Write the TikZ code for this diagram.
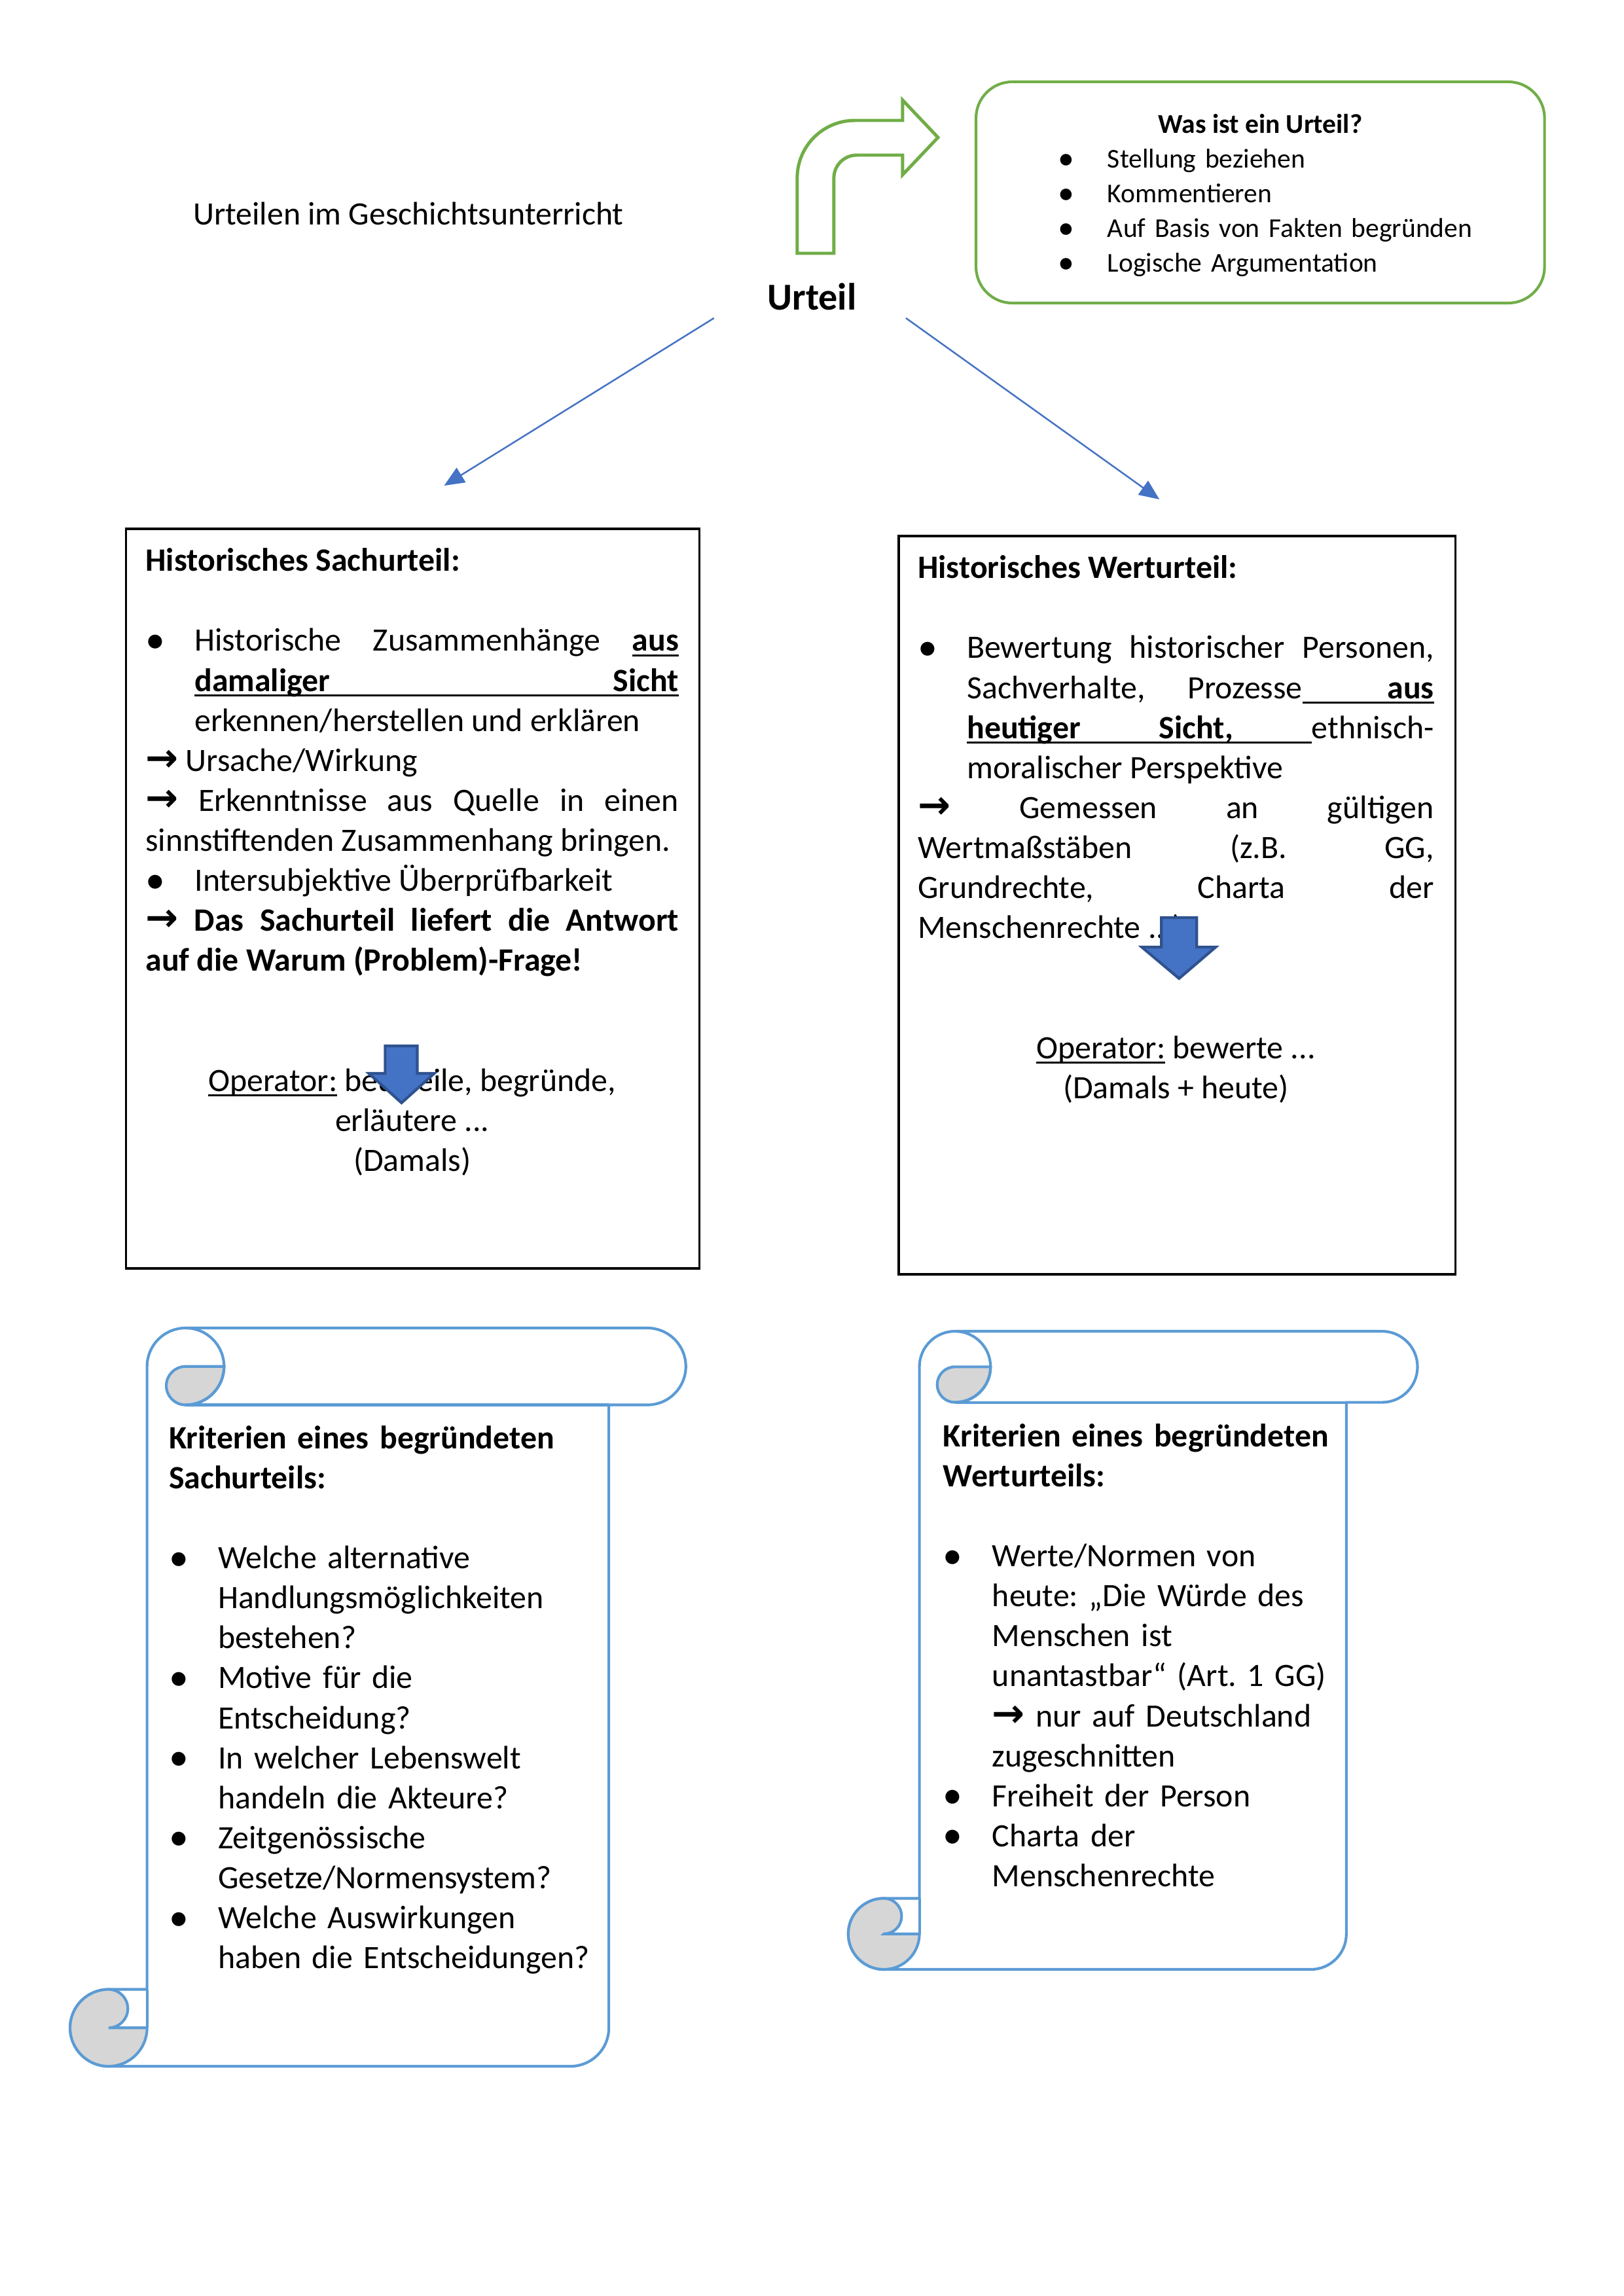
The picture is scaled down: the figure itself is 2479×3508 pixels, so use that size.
\documentclass[tikz,border=0pt]{standalone}
\usepackage{fontspec}
\usepackage{graphicx}
\setmainfont{Carlito}
\newfontfamily\arrowfont{DejaVu Sans}
\usetikzlibrary{arrows.meta,fit}
\definecolor{leaf}{HTML}{70AD47}
\definecolor{sky}{HTML}{5B9BD5}
\definecolor{royal}{HTML}{4472C4}
\definecolor{navy}{HTML}{2F528F}
\definecolor{curl}{HTML}{D6D6D6}
\frenchspacing
\tolerance=10000
\hbadness=10000

\newsavebox\ulbox
\newcommand{\ulw}[1]{\leavevmode\sbox\ulbox{#1}\rlap{\rule[-1.9pt]{\wd\ulbox}{0.7pt}}\usebox\ulbox}
\newcommand{\ulsp}{\leaders\hrule height -1.2pt depth 1.9pt\hskip\fontdimen2\font plus\fontdimen3\font minus\fontdimen4\font\relax}
\newcommand{\pfeil}{\scalebox{1.2}{\arrowfont\bfseries →}}
\newcommand{\erste}{\rule{0pt}{0.952em}}
\newcommand{\bul}{\raisebox{-0.05em}{\scalebox{1.2}{•}}}
\newcommand{\punkt}{\hangindent=6.35mm\hangafter=1\relax\makebox[6.35mm][l]{\bul}}

% vertical scroll: left, top, right, bottom, roll size
\newcommand{\scrollshape}[5]{%
  \pgfmathsetmacro{\scL}{#1+#5}\pgfmathsetmacro{\scR}{#3-#5}%
  \pgfmathsetmacro{\scH}{#5/2}\pgfmathsetmacro{\scQ}{#5/4}%
  \pgfmathsetmacro{\scLH}{#1+1.5*#5}\pgfmathsetmacro{\scLC}{#1+2*#5}%
  \pgfmathsetmacro{\scLh}{#1+#5/2}\pgfmathsetmacro{\scRh}{#3-#5/2}%
  \pgfmathsetmacro{\scTh}{#2+#5/2}\pgfmathsetmacro{\scTc}{#2+#5}%
  \pgfmathsetmacro{\scBh}{#4-#5/2}\pgfmathsetmacro{\scBc}{#4-#5}%
  \filldraw[scrollline,fill=white] (\scL,\scTh) arc[start angle=180,end angle=270,radius=\scH] -- (\scRh,#2) arc[start angle=-90,end angle=90,radius=\scH] -- (\scR,\scTc) -- (\scR,\scBh) arc[start angle=0,end angle=90,radius=\scH] -- (\scLh,#4) arc[start angle=90,end angle=270,radius=\scH] -- (\scL,\scBc) -- cycle;
  \filldraw[scrollline,fill=curl] (\scLH,\scTh) -- (\scLC,\scTh) arc[start angle=0,end angle=90,radius=\scH] arc[start angle=90,end angle=270,radius=\scQ] -- cycle;
  \filldraw[scrollline,fill=curl] (\scLh,\scBh) -- (\scL,\scBh) arc[start angle=0,end angle=270,radius=\scH] arc[start angle=270,end angle=450,radius=\scQ] -- cycle;
  \draw[scrollline] (\scR,\scTc) -- (\scLH,\scTc);
  \draw[scrollline] (\scLH,#2) arc[start angle=-90,end angle=90,radius=\scH];
  \draw[scrollline] (\scL,\scBc) -- (\scL,\scBh);
}

\begin{document}
\begin{tikzpicture}[x=0.08471mm,y=-0.08466mm,
  frame/.style={draw=black,line width=0.75pt,inner sep=0pt},
  wasframe/.style={draw=leaf,line width=1pt,rounded corners=4.7mm,inner sep=0pt},
  body/.style={inner sep=0pt,anchor=north west,font=\fontsize{12}{14.72}\selectfont},
  small/.style={inner sep=0pt,font=\fontsize{10}{12.8}\selectfont},
  link/.style={-{Triangle[length=2.6mm,width=2.2mm]},draw=royal,line width=0.6pt},
  downarrow/.style={fill=royal,draw=navy,line width=1pt},
  bent/.style={draw=leaf,line width=1.2pt,fill=white},
  scrollline/.style={draw=sky,line width=1pt}]
\useasboundingbox (0,0) rectangle (2479,3508);

% heading and centre
\node[body,anchor=base west] (title) at (294,343) {Urteilen im Geschichtsunterricht};
\node[inner sep=0pt,anchor=base west,font=\fontsize{14}{17}\selectfont\bfseries] (urteil) at (1171,473) {Urteil};

% green info box
\draw[bent] (1217,387) -- (1217,272) arc[start angle=180,end angle=270,radius=88] -- (1378,184) -- (1378,153) -- (1432,210) -- (1378,267) -- (1378,237) -- (1308,237) arc[start angle=270,end angle=180,radius=35] -- (1273,387) -- cycle;
\node[wasframe,fit={(1490,125) (2358,463)}] (wasbox) {};
\node[small,anchor=base,font=\fontsize{10}{12.8}\selectfont\bfseries] (wastitle) at (1924,203) {Was ist ein Urteil?};
\node[small,anchor=north west,text width=60mm,align=left] (waslist) at (1615,216) {\erste\makebox[6.35mm][l]{\bul}Stellung beziehen\\
\makebox[6.35mm][l]{\bul}Kommentieren\\
\makebox[6.35mm][l]{\bul}Auf Basis von Fakten begründen\\
\makebox[6.35mm][l]{\bul}Logische Argumentation};

% connectors
\coordinate (lsrc) at (1090,486);
\coordinate (ltip) at (678,742);
\coordinate (rsrc) at (1383,486);
\coordinate (rtip) at (1770,763);
\draw[link] (lsrc) -- (ltip);
\draw[link] (rsrc) -- (rtip);

% Sachurteil
\node[frame,fit={(192,808) (1068,1938)}] (sachframe) {};
\node[body,text width=68.95mm,align=justify] (sachtxt) at ([shift={(31,18)}]sachframe.north west) {\erste\textbf{Historisches Sachurteil:}\par\vspace{\baselineskip}
\punkt Historische Zusammenhänge \ulw{\textbf{aus}}\linebreak
\ulw{\textbf{damaliger}}\ulsp\ulw{\textbf{Sicht}}\linebreak
erkennen/herstellen und erklären\par
\pfeil{} Ursache/Wirkung\par
\pfeil{} Erkenntnisse aus Quelle in einen\linebreak
sinnstiftenden Zusammenhang bringen.\par
\punkt Intersubjektive Überprüfbarkeit\par
\textbf{\pfeil{} Das Sachurteil liefert die Antwort\linebreak
auf die Warum (Problem)-Frage!}\par\vspace{2\baselineskip}
{\centering\ulw{Operator:} beurteile, begründe,\linebreak
erläutere ...\linebreak
(Damals)\par}};

% Werturteil
\node[frame,fit={(1372,819) (2222,1947)}] (wertframe) {};
\node[body,text width=66.75mm,align=justify] (werttxt) at ([shift={(30,18)}]wertframe.north west) {\erste\textbf{Historisches Werturteil:}\par\vspace{\baselineskip}
\punkt Bewertung historischer Personen,\linebreak
Sachverhalte, Prozesse\ulsp\ulsp\ulw{\textbf{aus}}\linebreak
\ulw{\textbf{heutiger}}\ulsp\ulw{\textbf{Sicht,}}\ulsp ethnisch-\linebreak
moralischer Perspektive\par
\pfeil{} Gemessen an gültigen\linebreak
Wertmaßstäben (z.B. GG,\linebreak
Grundrechte, Charta der\linebreak
Menschenrechte ...)\par\vspace{2\baselineskip}
{\centering\ulw{Operator:} bewerte ...\linebreak
(Damals + heute)\par}};

\draw[downarrow] (588,1598) -- (637,1598) -- (637,1640) -- (663,1640) -- (613,1685) -- (563,1640) -- (588,1640) -- cycle;
\draw[downarrow] (1773,1402) -- (1827,1402) -- (1827,1447) -- (1856,1447) -- (1800,1495) -- (1743,1447) -- (1773,1447) -- cycle;

% scrolls
\scrollshape{107}{2029}{1047}{3157}{117.5}
\node[body,text width=56mm,align=left] (sachkrit) at (257,2165) {\erste\textbf{Kriterien eines begründeten\linebreak Sachurteils:}\par\vspace{\baselineskip}
\punkt Welche alternative\linebreak Handlungsmöglichkeiten\linebreak bestehen?\par
\punkt Motive für die\linebreak Entscheidung?\par
\punkt In welcher Lebenswelt\linebreak handeln die Akteure?\par
\punkt Zeitgenössische\linebreak Gesetze/Normensystem?\par
\punkt Welche Auswirkungen\linebreak haben die Entscheidungen?\par};

\scrollshape{1295}{2034}{2164}{3009}{108.6}
\node[body,text width=52mm,align=left] (wertkrit) at (1439,2162) {\erste\textbf{Kriterien eines begründeten\linebreak Werturteils:}\par\vspace{\baselineskip}
\punkt Werte/Normen von\linebreak heute: „Die Würde des\linebreak Menschen ist\linebreak unantastbar“ (Art. 1 GG)\linebreak \pfeil{} nur auf Deutschland\linebreak zugeschnitten\par
\punkt Freiheit der Person\par
\punkt Charta der\linebreak Menschenrechte\par};
\end{tikzpicture}
\end{document}
